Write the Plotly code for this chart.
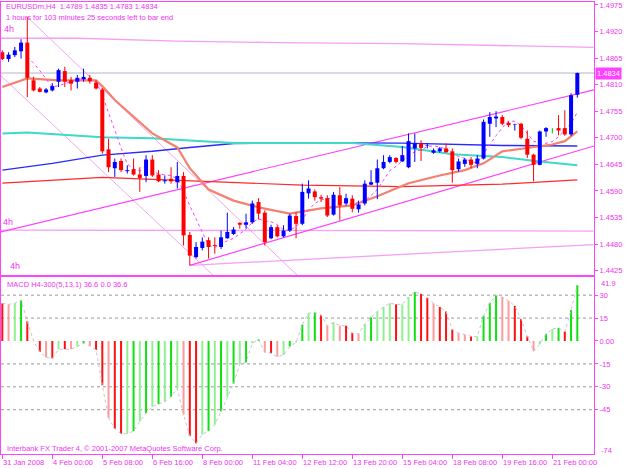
import plotly.graph_objects as go

# ---------------- data : EURUSDm H4, bar index 0 = 31 Jan 2008 16:00 ----------------
opens = [1.4877,1.4863,1.4871,1.4879,1.4897,1.4819,1.4802,1.4794,1.4798,1.4816,
         1.4838,1.4819,1.4816,1.4821,1.4824,1.4814,1.4800,1.4676,1.4637,1.4652,
         1.4631,1.4635,1.4624,1.4621,1.4655,1.4624,1.4610,1.4615,1.4608,1.4621,
         1.4499,1.4453,1.4472,1.4488,1.4478,1.4474,1.4492,1.4501,1.4524,1.4520,
         1.4525,1.4567,1.4545,1.4492,1.4515,1.4496,1.4508,1.4538,1.4522,1.4585,
         1.4589,1.4577,1.4575,1.4541,1.4581,1.4564,1.4574,1.4552,1.4564,1.4603,
         1.4607,1.4637,1.4650,1.4658,1.4651,1.4639,1.4678,1.4688,1.4683,1.4669,
         1.4672,1.4678,1.4672,1.4635,1.4646,1.4655,1.4646,1.4657,1.4729,1.4740,
         1.4743,1.4731,1.4727,1.4729,1.4698,1.4665,1.4644,1.4713,1.4719,1.4720,
         1.4720,1.4707,1.4789]
highs = [1.4881,1.4877,1.4888,1.4904,1.4950,1.4826,1.4805,1.4803,1.4813,1.4843,
         1.4847,1.4826,1.4830,1.4843,1.4830,1.4819,1.4803,1.4698,1.4657,1.4657,
         1.4643,1.4657,1.4639,1.4664,1.4664,1.4633,1.4622,1.4639,1.4650,1.4629,
         1.4505,1.4484,1.4494,1.4494,1.4494,1.4508,1.4545,1.4515,1.4525,1.4543,
         1.4570,1.4575,1.4550,1.4520,1.4519,1.4519,1.4543,1.4546,1.4605,1.4612,
         1.4593,1.4582,1.4581,1.4588,1.4598,1.4584,1.4581,1.4570,1.4612,1.4633,
         1.4655,1.4664,1.4664,1.4660,1.4683,1.4709,1.4709,1.4695,1.4689,1.4678,
         1.4681,1.4688,1.4678,1.4657,1.4658,1.4660,1.4664,1.4738,1.4753,1.4755,
         1.4747,1.4734,1.4729,1.4731,1.4715,1.4667,1.4715,1.4722,1.4720,1.4747,
         1.4757,1.4792,1.4835]
lows = [1.4861,1.4857,1.4867,1.4864,1.4784,1.4796,1.4794,1.4792,1.4796,1.4805,
        1.4805,1.4798,1.4802,1.4816,1.4812,1.4800,1.4667,1.4629,1.4619,1.4629,
        1.4626,1.4622,1.4588,1.4608,1.4619,1.4608,1.4605,1.4605,1.4595,1.4477,
        1.4436,1.4450,1.4467,1.4450,1.4460,1.4470,1.4491,1.4499,1.4512,1.4512,
        1.4522,1.4531,1.4477,1.4490,1.4494,1.4494,1.4505,1.4492,1.4519,1.4574,
        1.4570,1.4567,1.4536,1.4539,1.4529,1.4560,1.4546,1.4545,1.4560,1.4602,
        1.4573,1.4635,1.4647,1.4647,1.4650,1.4637,1.4650,1.4652,1.4678,1.4667,
        1.4669,1.4669,1.4607,1.4630,1.4640,1.4637,1.4637,1.4655,1.4702,1.4722,
        1.4726,1.4722,1.4715,1.4697,1.4658,1.4610,1.4643,1.4702,1.4709,1.4705,
        1.4704,1.4704,1.4783]
closes = [1.4863,1.4872,1.4881,1.4897,1.4824,1.4798,1.4795,1.4800,1.4807,1.4840,
          1.4816,1.4812,1.4824,1.4826,1.4817,1.4802,1.4672,1.4639,1.4650,1.4633,
          1.4633,1.4624,1.4617,1.4655,1.4622,1.4610,1.4612,1.4610,1.4621,1.4498,
          1.4456,1.4474,1.4485,1.4474,1.4476,1.4494,1.4505,1.4510,1.4520,1.4525,
          1.4564,1.4543,1.4484,1.4515,1.4496,1.4508,1.4539,1.4522,1.4588,1.4595,
          1.4577,1.4574,1.4539,1.4582,1.4560,1.4575,1.4553,1.4562,1.4605,1.4608,
          1.4637,1.4650,1.4660,1.4650,1.4664,1.4693,1.4688,1.4679,1.4684,1.4674,
          1.4678,1.4670,1.4633,1.4651,1.4655,1.4644,1.4657,1.4733,1.4743,1.4744,
          1.4729,1.4726,1.4728,1.4700,1.4665,1.4644,1.4713,1.4720,1.4719,1.4715,
          1.4707,1.4788,1.4834]
bars = list(range(len(closes)))

# moving averages (bar index, price)
ma_salmon_x = [0, 4, 9, 15, 16, 18, 24, 28, 30, 33, 37, 41, 46, 51, 56, 60, 65, 70, 74, 77, 80, 84, 88, 90, 92]
ma_salmon_y = [1.4805,1.4823,1.4819,1.4819,1.4807,1.4778,1.4709,1.4680,1.4637,1.4593,1.4570,1.4556,1.4543,
               1.4554,1.4560,1.4579,1.4606,1.4622,1.4633,1.4647,1.4672,1.4679,1.4686,1.4693,1.4713]
ma_teal_x = [0, 4, 16, 24, 32, 37, 56, 64, 72, 80, 86, 92]
ma_teal_y = [1.4709,1.4711,1.4701,1.4699,1.4693,1.4689,1.4689,1.4681,1.4666,1.4660,1.4651,1.4643]
ma_blue_x = [0, 8, 16, 24, 30, 37, 48, 64, 80, 92]
ma_blue_y = [1.4633,1.4647,1.4664,1.4672,1.4680,1.4688,1.4690,1.4689,1.4684,1.4683]
ma_red_x = [0, 8, 16, 24, 32, 48, 64, 72, 80, 92]
ma_red_y = [1.4606,1.4612,1.4618,1.4614,1.4610,1.4602,1.4599,1.4601,1.4604,1.4613]
mtf_top_x = [-0.2, 12, 28, 44, 64, 80, 94.6]
mtf_top_y = [1.4906,1.4906,1.4900,1.4897,1.4895,1.4891,1.4887]
mtf_mid_x = [-0.2, 94.6]
mtf_mid_y = [1.4509,1.4507]
mtf_low_x = [30, 94.6]
mtf_low_y = [1.4436,1.4479]
chan_up_x = [-0.37, 94.67]
chan_up_y = [1.4505,1.4799]
chan_lo_x = [30, 94.67]
chan_lo_y = [1.4436,1.4683]
down_a_x = [-0.37, 33.7]
down_a_y = [1.4830,1.4416]
down_b_x = [4, 47.15]
down_b_y = [1.4950,1.4416]
last_price = 1.4834

macd = [24.7,24,24.7,26.8,12.9,0,-7.1,-10.7,-11.4,-5.4,
        -5.4,-5.4,-3.6,-1.5,-3.2,-5.8,-29,-50.4,-57.5,-60.7,
        -60.7,-59,-52.6,-47.2,-42.9,-41.4,-39.7,-36.5,-31.1,-48.3,
        -62.2,-67,-61.2,-59,-54.7,-46.1,-36.5,-27.9,-15,-14,
        -1.5,1,-7.5,-8,-10.3,-9.2,-3.6,-1,10.7,18.2,
        18.7,17,10,12.2,10,10,5.2,4.7,11.2,15.5,
        19.3,22.3,24.7,24,24,28.8,32,30.9,28.3,24.7,
        22.3,19.3,7.5,5.2,4.3,3,3,16.5,25.1,29.8,
        28.8,26.2,23,14.4,3,-6.7,-2,4.7,7.9,8.6,
        6.2,20.2,36.6]
macd_col = list("RrgGRrRrRgRrgGrRRrRRgGgGgGgGgrRRgGgGgGgGgGrRrgGgGgGRrgrRRrgGgggRggGRRrRRRrrRgGGGrrRRRrgGgGRGG")

x_tick_idx = [0, 8, 16, 24, 32, 40, 48, 56, 64, 72, 80, 88]
x_tick_txt = ["31 Jan 2008", "4 Feb 00:00", "5 Feb 08:00", "6 Feb 16:00", "8 Feb 00:00", "11 Feb 04:00",
              "12 Feb 12:00", "13 Feb 20:00", "15 Feb 04:00", "18 Feb 08:00", "19 Feb 16:00", "21 Feb 00:00"]
price_ticks = [1.4425,1.4480,1.4535,1.4590,1.4645,1.4700,1.4755,1.4810,1.4865,1.4920,1.4975]
macd_ticks = [30, 15, 0, -15, -30, -45]
macd_tick_txt = ["30", "15", "0.00", "-15", "-30", "-45"]
macd_levels = [30, 15, -15, -30, -45]

# ---------------- figure ----------------
MAG = "#ff44ff"
TXT = "#ee33ee"
FONT = "Liberation Sans"
W, H = 625, 469
ML, MR, MT, MB = 1, 31, 2, 15
PW, PH = W - ML - MR, H - MT - MB

def px(xp):
    return (xp - ML) / PW
def py(yp):
    return (H - MB - yp) / PH

fig = go.Figure()

def line(xs, ys, color, width, dash="solid", yaxis="y", xaxis="x"):
    fig.add_trace(go.Scatter(x=xs, y=ys, mode="lines", xaxis=xaxis, yaxis=yaxis,
                             line=dict(color=color, width=width, dash=dash),
                             hoverinfo="skip", showlegend=False))

# background objects
line([-0.3, 94.7], [last_price, last_price], "#b4b4cc", 1)
line(mtf_top_x, mtf_top_y, "#f4a0f4", 1.3)
line(mtf_mid_x, mtf_mid_y, "#f4a0f4", 1.3)
line(mtf_low_x, mtf_low_y, "#f4a0f4", 1.3)
line(down_a_x, down_a_y, "#f0a8f0", 1)
line(down_b_x, down_b_y, "#f0a8f0", 1)
line(chan_up_x, chan_up_y, "#ff40ff", 1.2)
line(chan_lo_x, chan_lo_y, "#ff40ff", 1.2)
line(ma_red_x, ma_red_y, "#ff2a2a", 1.2)
line(ma_blue_x, ma_blue_y, "#2a2aff", 1.4)
line(ma_teal_x, ma_teal_y, "#40d8c8", 2)
line(ma_salmon_x, ma_salmon_y, "#f48070", 2.2)

# fast MA of closes (dotted magenta)
sma_x, sma_y = [], []
for i in range(4, len(closes)):
    sma_x.append(i)
    sma_y.append(sum(closes[i-4:i+1]) / 5)
line(sma_x, sma_y, "#ff40ff", 1, dash="dot")

# candles
groups = {"#0000ff": ([], [], [], []), "#ff0000": ([], [], [], []), "#00c000": ([], [], [], [])}
for i, o, h, l, c in zip(bars, opens, highs, lows, closes):
    col = "#0000ff" if c > o else ("#ff0000" if c < o else "#00c000")
    wx, wy, bx, by = groups[col]
    wx += [i, i, None]
    wy += [l, h, None]
    lo, hi = min(o, c), max(o, c)
    if hi - lo < 0.00004:
        lo, hi = lo - 0.00002, hi + 0.00002
    bx += [i, i, None]
    by += [lo, hi, None]
for col, (wx, wy, bx, by) in groups.items():
    line(wx, wy, col, 1)
    line(bx, by, col, 4)

# MACD panel
for lv in macd_levels:
    fig.add_shape(type="line", xref="paper", yref="y2", x0=0, x1=1, y0=lv, y1=lv,
                  line=dict(color="#9a9a9a", width=1, dash="3px,3px"), layer="below")
cmap = {"G": "#10e010", "g": "#90f090", "R": "#ff1010", "r": "#ff9a9a"}
for key, col in cmap.items():
    hx, hy = [], []
    for i, v, k in zip(bars, macd, macd_col):
        if k == key:
            hx += [i, i, None]
            hy += [0, v, None]
    line(hx, hy, col, 2, yaxis="y2", xaxis="x2")
line(bars, macd, "#c4c4d4", 1, dash="dot", yaxis="y2", xaxis="x2")

axis_common = dict(showline=True, linecolor=MAG, linewidth=1, mirror=True, showgrid=False,
                   zeroline=False, fixedrange=True)
fig.update_layout(
    width=W, height=H, margin=dict(l=ML, r=MR, t=MT, b=MB),
    paper_bgcolor="white", plot_bgcolor="white", showlegend=False,
    font=dict(family=FONT, size=7.5, color=TXT),
    xaxis=dict(domain=[0, 1], anchor="y", range=[-0.21, 94.67], showticklabels=False, ticks="", **axis_common),
    yaxis=dict(domain=[py(275), 1], anchor="x", side="right", range=[1.4416, 1.4981],
               tickvals=price_ticks, tickformat=".4f", ticks="outside", ticklen=3, tickcolor=MAG,
               tickfont=dict(family=FONT, size=7.5, color=TXT), **axis_common),
    xaxis2=dict(domain=[0, 1], anchor="y2", range=[-0.21, 94.67], tickvals=x_tick_idx,
                ticktext=[""] * len(x_tick_idx), ticks="outside", ticklen=4, tickcolor=MAG, **axis_common),
    yaxis2=dict(domain=[0, py(277)], anchor="x2", side="right", range=[-74, 41.9],
                tickvals=macd_ticks, ticktext=macd_tick_txt, ticks="outside", ticklen=3, tickcolor=MAG,
                tickfont=dict(family=FONT, size=7.5, color=TXT), **axis_common),
)

ann = []
def text(t, xp, yp, size=7.5, color=TXT, **kw):
    ann.append(dict(text=t, xref="paper", yref="paper", x=px(xp), y=py(yp), xanchor="left",
                    yanchor="middle", showarrow=False, font=dict(family=FONT, size=size, color=color), **kw))

text("EURUSDm,H4  1.4789 1.4835 1.4783 1.4834", 4, 6)
text("1 hours for 103 minutes 25 seconds left to bar end", 4, 17)
text("4h", 2, 29, size=9)
text("4h", 1, 222, size=9)
text("4h", 8, 266, size=9)
text("MACD H4-300(5,13,1) 36.6 0.0 36.6", 5, 284)
text("Interbank FX Trader 4, © 2001-2007 MetaQuotes Software Corp.", 5, 448)
text("41.9", 599, 283)
text("-74", 599, 450)
for idx, t in zip(x_tick_idx, x_tick_txt):
    ann.append(dict(text=t, xref="x2", yref="paper", x=idx, y=py(462), xanchor="left", yanchor="middle",
                    xshift=-1, showarrow=False, font=dict(family=FONT, size=7.5, color=TXT)))
ann.append(dict(text="1.4834", xref="paper", yref="y", x=1, y=last_price, xanchor="left", yanchor="middle",
                xshift=1, showarrow=False, bgcolor="#ff40ff", borderpad=1,
                font=dict(family=FONT, size=7.5, color="white")))
fig.update_layout(annotations=ann)

fig.write_html("out.html")
